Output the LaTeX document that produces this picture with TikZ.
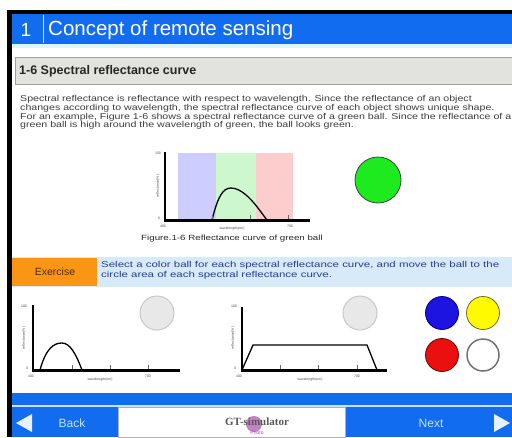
\documentclass[tikz,border=0pt]{standalone}
\usepackage{fontspec}
\setmainfont{Liberation Sans}
\newfontfamily\parafont[FakeStretch=1.25]{Liberation Sans}
\newfontfamily\exfont[FakeStretch=1.35]{Liberation Sans}
\newfontfamily\capfont[FakeStretch=1.3]{Liberation Sans}
\newfontfamily\gtfont{Liberation Serif}
\definecolor{titleblue}{RGB}{18,108,240}
\definecolor{stripcyan}{RGB}{215,250,255}
\definecolor{secgray}{RGB}{226,226,222}
\definecolor{secborder}{RGB}{160,160,160}
\definecolor{exblue}{RGB}{214,234,250}
\definecolor{exorange}{RGB}{250,150,20}
\definecolor{extext}{RGB}{40,60,140}
\definecolor{paratext}{RGB}{60,60,60}
\definecolor{bandblue}{RGB}{205,205,255}
\definecolor{bandgreen}{RGB}{205,248,205}
\definecolor{bandred}{RGB}{252,205,205}
\definecolor{ballgreen}{RGB}{30,235,30}
\definecolor{ballblue}{RGB}{30,20,225}
\definecolor{ballyellow}{RGB}{255,250,0}
\definecolor{ballred}{RGB}{235,15,15}
\definecolor{emptyfill}{RGB}{232,232,232}
\definecolor{emptyline}{RGB}{200,200,200}
\definecolor{btntext}{RGB}{200,225,255}
\begin{document}
\begin{tikzpicture}[x=1pt,y=-1pt,
  axis/.style={line width=2.2pt,black},
  curve/.style={line width=1.3pt,black},
  tick/.style={line width=0.5pt,black!60},
  tiny/.style={font=\fontsize{3.5}{4}\selectfont,text=black!70,inner sep=0pt},
  paraline/.style={anchor=west,inner sep=0pt,font=\parafont\fontsize{8.5}{9}\selectfont,text=paratext},
  exline/.style={anchor=west,inner sep=0pt,font=\exfont\fontsize{8.5}{9}\selectfont,text=extext},
  ball/.style={line width=0.8pt},
  emptyball/.style={fill=emptyfill,draw=emptyline,line width=1pt},
  btnlabel/.style={font=\fontsize{12}{14}\selectfont,text=btntext,inner sep=0pt}]
\useasboundingbox (0,0) rectangle (512,437);
\clip (0,0) rectangle (512,437);
\fill[white] (0,0) rectangle (512,437);
% frame
\fill[black] (7,10) rectangle (512,14);
\fill[black] (7,10) rectangle (12,437);
% title bar
\fill[titleblue] (12,14) rectangle (512,44);
\fill[stripcyan] (12,44) rectangle (512,48);
\draw[white!80!titleblue,line width=1pt] (43,15) -- (43,43);
\node[text=white,font=\fontsize{19}{22}\selectfont,inner sep=0pt] (num) at (26,30) {1};
\node[anchor=west,text=white,font=\fontsize{20.5}{22}\selectfont,inner sep=0pt] (title) at (48,30) {Concept of remote sensing};
% section header
\draw[fill=secgray,draw=secborder,line width=0.8pt] (15,57) rectangle (514,84);
\node[anchor=west,font=\bfseries\fontsize{12.5}{14}\selectfont,text=black!85,inner sep=0pt] (sec) at (19,71) {1-6 Spectral reflectance curve};
% paragraph
\node[paraline] (p1) at (20,99) {Spectral reflectance is reflectance with respect to wavelength. Since the reflectance of an object};
\node[paraline] (p2) at (20,108) {changes according to wavelength, the spectral reflectance curve of each object shows unique shape.};
\node[paraline] (p3) at (20,117) {For an example, Figure 1-6 shows a spectral reflectance curve of a green ball. Since the reflectance of a};
\node[paraline] (p4) at (20,125.5) {green ball is high around the wavelength of green, the ball looks green.};
% main figure
\fill[bandblue] (178,153) rectangle (216,220);
\fill[bandgreen] (216,153) rectangle (256,220);
\fill[bandred] (256,153) rectangle (293,220);
\draw[curve] (212,220) .. controls (218,196) and (223,188) .. (231,188) .. controls (241,188) and (251,199) .. (258,208) -- (267,220);
\foreach \tx in {212,250,288} \draw[tick] (\tx,219) -- (\tx,215);
\draw[axis] (165,152) -- (165,220.5) -- (310,220.5);
\node[tiny] (m100) at (158,153) {100};
\node[tiny] (m0) at (159,218) {0};
\node[tiny] (m400) at (163,226) {400};
\node[tiny] (m700) at (290,226) {700};
\node[tiny] (mwl) at (232,229) {wavelength(nm)};
\node[tiny,rotate=90] (mrf) at (158,186) {reflectance(\%)};
\node[inner sep=0pt,font=\capfont\fontsize{7.5}{8}\selectfont,text=black!85] (cap) at (232,239) {Figure.1-6 Reflectance curve of green ball};
\draw[ball,fill=ballgreen,draw=black!75] (378,180) circle (23);
% exercise bar
\fill[exblue] (12,257) rectangle (512,287);
\fill[exorange] (12,258) rectangle (97,286);
\node[font=\fontsize{10.5}{12}\selectfont,text=black!70!exorange,inner sep=0pt] (ex) at (55,272) {Exercise};
\node[exline] (e1) at (101,265) {Select a color ball for each spectral reflectance curve, and move the ball to the};
\node[exline] (e2) at (101,275) {circle area of each spectral reflectance curve.};
% graph 1
\draw[curve] (40,370) .. controls (46,348) and (54,343) .. (62,343) .. controls (70,343) and (76,354) .. (82,370);
\foreach \tx in {72,110,148} \draw[tick] (\tx,369) -- (\tx,365);
\draw[axis] (33,305) -- (33,370.5) -- (180,370.5);
\node[tiny] (a100) at (24,306) {100};
\node[tiny] (a0) at (27,368) {0};
\node[tiny] (a400) at (31,376) {400};
\node[tiny] (a700) at (148,376) {700};
\node[tiny] (awl) at (100,380) {wavelength(nm)};
\node[tiny,rotate=90] (arf) at (24,338) {reflectance(\%)};
\draw[emptyball] (157,313) circle (17);
% graph 2
\draw[curve] (242,370) -- (253,345) -- (367,345) -- (377,370);
\foreach \tx in {280,318,357} \draw[tick] (\tx,369) -- (\tx,365);
\draw[axis] (242,307) -- (242,370.5) -- (387,370.5);
\node[tiny] (b100) at (234,306) {100};
\node[tiny] (b0) at (235,368) {0};
\node[tiny] (b400) at (239,376) {400};
\node[tiny] (b700) at (357,376) {700};
\node[tiny] (bwl) at (310,380) {wavelength(nm)};
\node[tiny,rotate=90] (brf) at (233,338) {reflectance(\%)};
\draw[emptyball] (360,313) circle (17);
% colour balls
\draw[ball,fill=ballblue,draw=blue!50!black] (442,313) circle (16.5);
\draw[ball,fill=ballyellow,draw=olive!70!black] (483,313) circle (16.5);
\draw[ball,fill=ballred,draw=red!40!black] (442,355) circle (16.5);
\draw[line width=1.5pt,fill=white,draw=black!55] (483,355) circle (16);
% bottom bar
\fill[titleblue] (12,393) rectangle (512,437);
\fill[btntext] (12,405) rectangle (512,407);
\fill[white] (118,407) rectangle (345,437);
\draw[black!30,line width=0.5pt] (118,407) rectangle (345,437);
\fill[white!90!titleblue] (32,414) -- (32,432) -- (16,423) -- cycle;
\fill[white!90!titleblue] (494,414) -- (494,432) -- (510,423) -- cycle;
\node[btnlabel] (back) at (72,423) {Back};
\node[btnlabel] (next) at (431,423) {Next};
\fill[violet!60!white,opacity=0.8] (254,424) circle (8);
\node[font=\gtfont\bfseries\fontsize{11}{13}\selectfont,text=black!65,inner sep=0pt] (gt) at (257,422) {GT-simulator};
\node[font=\fontsize{5}{6}\selectfont,text=violet!70,inner sep=0pt] (ph) at (257,433) {Photo};
\end{tikzpicture}
\end{document}
